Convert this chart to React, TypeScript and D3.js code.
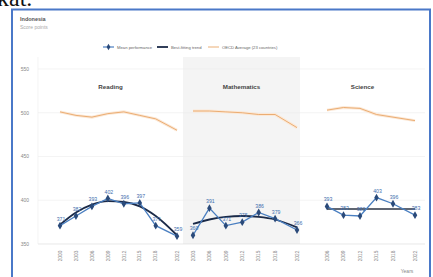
import * as d3 from "d3";
import React from "react";

// PISA trends, Indonesia (score points)
const readingYears = [2000, 2003, 2006, 2009, 2012, 2015, 2018, 2022];
const readingMean = [371, 382, 393, 402, 396, 397, 371, 359];
const readingTrend = [372, 386, 395, 399, 398, 393, 382, 360];
const readingOecd = [501, 497, 495, 499, 501, 497, 493, 480];

const mathYears = [2003, 2006, 2009, 2012, 2015, 2018, 2022];
const mathMean = [360, 391, 371, 375, 386, 379, 366];
const mathTrend = [373, 378, 381, 382, 381, 378, 369];
const mathOecd = [502, 502, 501, 500, 498, 498, 483];

const scienceYears = [2006, 2009, 2012, 2015, 2018, 2022];
const scienceMean = [393, 383, 382, 403, 396, 383];
const scienceTrend = [390, 390, 390, 390, 390, 390];
const scienceOecd = [503, 506, 505, 498, 495, 491];

const yTicks = [350, 400, 450, 500, 550];

const W = 433;
const H = 277;
const plotLeft = 38;
const plotRight = 425;
const plotTop = 57;
const plotBottom = 244;

const FONT = "'Liberation Sans', Arial, sans-serif";
const meanColor = "#4a7fc1";
const markerColor = "#2a4a7a";
const trendColor = "#1b2a48";
const oecdColor = "#e9a668";

const panels = [
  { name: "Reading", years: readingYears, mean: readingMean, trend: readingTrend, oecd: readingOecd, band: [38, 183], pts: [60, 177], shade: false, trendStroke: trendColor },
  { name: "Mathematics", years: mathYears, mean: mathMean, trend: mathTrend, oecd: mathOecd, band: [183, 300], pts: [193, 297], shade: true, trendStroke: trendColor },
  { name: "Science", years: scienceYears, mean: scienceMean, trend: scienceTrend, oecd: scienceOecd, band: [300, 425], pts: [327, 415], shade: false, trendStroke: "#5f6673" },
];

const y = d3.scaleLinear().domain([350, 550]).range([plotBottom, 69]);

const App: React.FC = () => {
  const diamond = d3.symbol(d3.symbolDiamond, 18)() || "";
  const legendDiamond = d3.symbol(d3.symbolDiamond, 12)() || "";
  return (
    <svg
      width={W}
      height={H}
      style={{ position: "fixed", top: 0, left: 0, background: "#fff" }}
      fontFamily={FONT}
    >
      <text x={-3} y={6} fontFamily="'Liberation Serif', serif" fontSize={24} fill="#111">
        kat.
      </text>
      <rect x={12} y={9.5} width={418} height={290} fill="#fff" stroke="#4a78c8" strokeWidth={2} />

      <text x={20} y={21} fontSize={5.5} fontWeight={700} fill="#555">
        Indonesia
      </text>
      <text x={20} y={29} fontSize={5} fill="#aaa">
        Score points
      </text>

      {/* legend */}
      <g transform="translate(0,47)" fontSize={4.2} fill="#666">
        <line x1={103} x2={114} y1={0} y2={0} stroke={meanColor} strokeWidth={1.2} />
        <path d={legendDiamond} transform="translate(108.5,0)" fill={markerColor} />
        <text x={117} y={1.5}>Mean performance</text>
        <line x1={157} x2={168} y1={0} y2={0} stroke={trendColor} strokeWidth={1.8} />
        <text x={171} y={1.5}>Best-fitting trend</text>
        <line x1={208} x2={219} y1={0} y2={0} stroke={oecdColor} strokeWidth={0.9} />
        <text x={222} y={1.5}>OECD Average (23 countries)</text>
      </g>

      {panels
        .filter((p) => p.shade)
        .map((p) => (
          <rect key={p.name} x={p.band[0]} y={plotTop} width={p.band[1] - p.band[0]} height={plotBottom - plotTop} fill="#f4f4f4" />
        ))}

      {/* y grid + labels */}
      {yTicks.map((t) => (
        <g key={t}>
          <line x1={plotLeft} x2={plotRight} y1={y(t)} y2={y(t)} stroke={t === 350 ? "#d8d8d8" : "#ececec"} strokeWidth={0.6} />
          <text x={29} y={y(t)} dy="0.35em" textAnchor="end" fontSize={5} fill="#888">
            {t}
          </text>
        </g>
      ))}
      <line x1={plotLeft} x2={plotLeft} y1={plotTop} y2={plotBottom} stroke="#ececec" strokeWidth={0.6} />

      {panels.map((p) => {
        const x = d3
          .scaleLinear()
          .domain([p.years[0], p.years[p.years.length - 1]])
          .range(p.pts);
        const idx = p.years.map((_, i) => i);
        const meanLine = d3
          .line<number>()
          .x((i) => x(p.years[i]))
          .y((i) => y(p.mean[i]));
        const trendLine = d3
          .line<number>()
          .x((i) => x(p.years[i]))
          .y((i) => y(p.trend[i]))
          .curve(d3.curveMonotoneX);
        const oecdLine = d3
          .line<number>()
          .x((i) => x(p.years[i]))
          .y((i) => y(p.oecd[i]));
        return (
          <g key={p.name}>
            <text x={(p.band[0] + p.band[1]) / 2} y={89} textAnchor="middle" fontSize={6.2} fontWeight={700} fill="#444">
              {p.name}
            </text>
            <path d={oecdLine(idx) || ""} fill="none" stroke="#fbe8d6" strokeWidth={3} />
            <path d={oecdLine(idx) || ""} fill="none" stroke={oecdColor} strokeWidth={0.9} />
            <path d={trendLine(idx) || ""} fill="none" stroke={p.trendStroke} strokeWidth={1.8} />
            <path d={meanLine(idx) || ""} fill="none" stroke={meanColor} strokeWidth={1.3} />
            {idx.map((i) => (
              <g key={i}>
                <path d={diamond} transform={`translate(${x(p.years[i])},${y(p.mean[i])})`} fill={markerColor} />
                <text x={x(p.years[i]) + 1} y={y(p.mean[i]) - 5} textAnchor="middle" fontSize={5.2} fill="#3f6fae">
                  {p.mean[i]}
                </text>
                <text
                  transform={`translate(${x(p.years[i])},256) rotate(-90)`}
                  textAnchor="middle"
                  dy="0.35em"
                  fontSize={4.8}
                  fill="#888"
                >
                  {p.years[i]}
                </text>
              </g>
            ))}
          </g>
        );
      })}

      <text x={407} y={273} textAnchor="middle" fontSize={5} fill="#888">
        Years
      </text>
    </svg>
  );
};

export default App;
